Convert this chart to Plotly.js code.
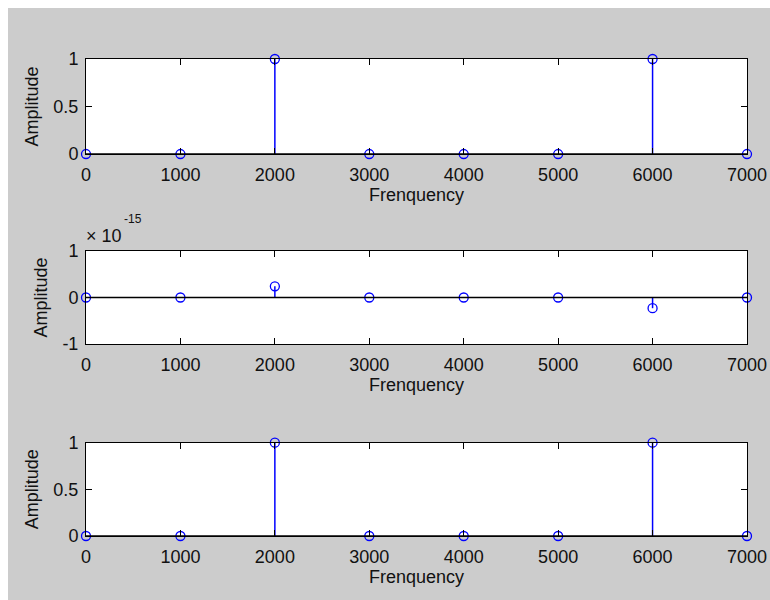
<!DOCTYPE html>
<html>
<head>
<meta charset="utf-8">
<script src="https://cdn.plot.ly/plotly-3.0.1.min.js"></script>
<style>
  html, body { margin: 0; padding: 0; background: #ffffff; }
  #fig { position: absolute; left: 8px; top: 8px; width: 762px; height: 592px; }
</style>
</head>
<body>
<div id="fig"></div>
<script>
// Frequency bins shared by the three spectra
const frequency = [0, 1000, 2000, 3000, 4000, 5000, 6000, 7000];
// Top panel: magnitude spectrum
const amplitudeTop = [0, 0, 1, 0, 0, 0, 1, 0];
// Middle panel: residual (round-off level, order 1e-16)
const amplitudeMid = [0, 0, 2.4e-16, 0, 0, 0, -2.3e-16, 0];
// Bottom panel: magnitude spectrum
const amplitudeBot = [0, 0, 1, 0, 0, 0, 1, 0];

const xTicks = [0, 1000, 2000, 3000, 4000, 5000, 6000, 7000];
const xTickText = ['0', '1000', '2000', '3000', '4000', '5000', '6000', '7000'];
const yTicksUnit = [0, 0.5, 1];
const yTicksUnitText = ['0', '0.5', '1'];
const yTicksMid = [-1e-15, 0, 1e-15];
const yTicksMidText = ['-1', '0', '1'];

const BLUE = '#0000ff';
const FONT = 'Liberation Sans, Arial, Helvetica, sans-serif';

// Stem segments: vertical line from the baseline to each value
function stemSegments(xs, ys) {
  const sx = [], sy = [];
  xs.forEach((x, i) => { sx.push(x, x, null); sy.push(0, ys[i], null); });
  return { sx, sy };
}

function stemTraces(xs, ys, xa, ya) {
  const s = stemSegments(xs, ys);
  return [
    { type: 'scatter', mode: 'lines', x: s.sx, y: s.sy, xaxis: xa, yaxis: ya,
      line: { color: BLUE, width: 1.5 }, hoverinfo: 'skip', cliponaxis: false },
    { type: 'scatter', mode: 'markers', x: xs, y: ys, xaxis: xa, yaxis: ya,
      marker: { symbol: 'circle-open', size: 9, color: BLUE, line: { width: 1.3, color: BLUE } },
      cliponaxis: false }
  ];
}

const data = [].concat(
  stemTraces(frequency, amplitudeTop, 'x', 'y'),
  stemTraces(frequency, amplitudeMid, 'x2', 'y2'),
  stemTraces(frequency, amplitudeBot, 'x3', 'y3')
);

function xAxis(anchor) {
  return {
    anchor: anchor, range: [0, 7000], tickmode: 'array', tickvals: xTicks, ticktext: xTickText,
    ticks: 'inside', ticklen: 6, tickcolor: '#000', tickwidth: 1,
    showline: true, linecolor: '#000', linewidth: 1, mirror: 'ticks',
    showgrid: false, zeroline: false, ticklabelstandoff: 4,
    tickfont: { family: FONT, size: 18, color: '#111' },
    title: { text: 'Frenquency', font: { family: FONT, size: 18, color: '#111' }, standoff: 2 }
  };
}

function yAxis(anchor, domain, range, vals, text) {
  return {
    anchor: anchor, domain: domain, range: range, tickmode: 'array', tickvals: vals, ticktext: text,
    ticks: 'inside', ticklen: 6, tickcolor: '#000', tickwidth: 1,
    showline: true, linecolor: '#000', linewidth: 1, mirror: 'ticks',
    showgrid: false, zeroline: false, ticklabelstandoff: 3,
    tickfont: { family: FONT, size: 18, color: '#111' },
    title: { text: 'Amplitude', font: { family: FONT, size: 18, color: '#111' }, standoff: 10 }
  };
}

const layout = {
  width: 762, height: 592,
  margin: { l: 78, r: 23, t: 51, b: 64 },
  paper_bgcolor: '#cccccc', plot_bgcolor: '#ffffff',
  showlegend: false,
  xaxis: xAxis('y'),
  yaxis: yAxis('x', [0.8008, 1], [0, 1], yTicksUnit, yTicksUnitText),
  xaxis2: xAxis('y2'),
  yaxis2: yAxis('x2', [0.4025, 0.5975], [-1e-15, 1e-15], yTicksMid, yTicksMidText),
  xaxis3: xAxis('y3'),
  yaxis3: yAxis('x3', [0, 0.1956], [0, 1], yTicksUnit, yTicksUnitText),
  shapes: [
    // stem baselines at zero
    { type: 'line', xref: 'x domain', yref: 'y', x0: 0, x1: 1, y0: 0, y1: 0, line: { color: '#000', width: 1.5 } },
    { type: 'line', xref: 'x2 domain', yref: 'y2', x0: 0, x1: 1, y0: 0, y1: 0, line: { color: '#000', width: 1.5 } },
    { type: 'line', xref: 'x3 domain', yref: 'y3', x0: 0, x1: 1, y0: 0, y1: 0, line: { color: '#000', width: 1.5 } }
  ],
  annotations: [
    // exponent multiplier of the middle panel's y axis
    { xref: 'paper', yref: 'paper', x: -0.003, y: 0.629, xanchor: 'left', yanchor: 'middle',
      text: '× 10', showarrow: false, font: { family: FONT, size: 18, color: '#111' } },
    { xref: 'paper', yref: 'paper', x: 0.0545, y: 0.6646, xanchor: 'left', yanchor: 'middle',
      text: '-15', showarrow: false, font: { family: FONT, size: 12, color: '#111' } }
  ]
};

Plotly.newPlot('fig', data, layout, { displayModeBar: false, staticPlot: true });
</script>
</body>
</html>
